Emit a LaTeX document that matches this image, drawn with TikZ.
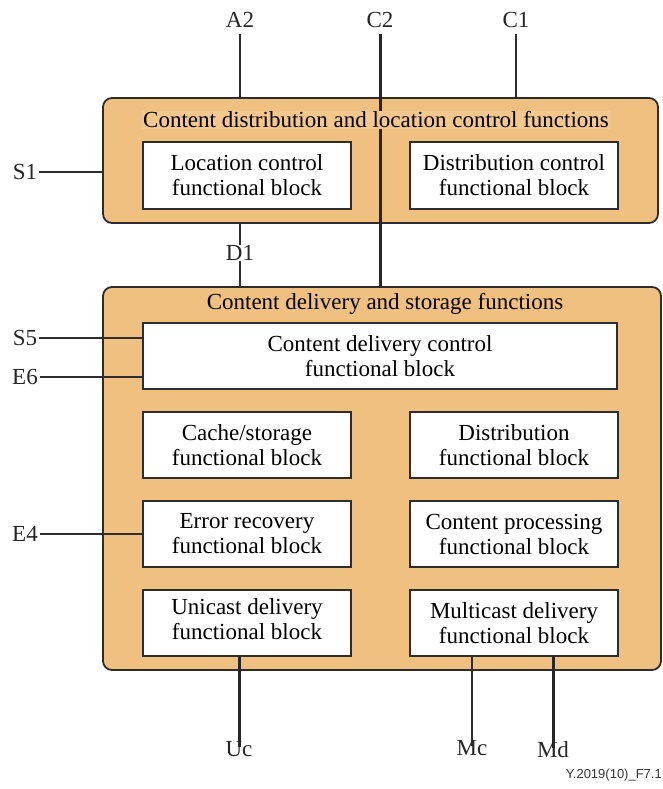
\documentclass[tikz,border=0pt]{standalone}
\usepackage{fontspec}
\setmainfont{Liberation Serif}
\newfontfamily\footfont{Liberation Sans}
\definecolor{orbg}{RGB}{240,192,128}
\definecolor{orhi}{RGB}{244,199,140}
\definecolor{edge}{RGB}{45,45,45}
\begin{document}
\begin{tikzpicture}[x=1pt,y=-1pt,
  font=\fontsize{23}{25}\selectfont,
  group/.style={draw=edge,line width=1.8pt,fill=orbg,rounded corners=9pt},
  fblock/.style={draw=edge,line width=1.5pt,fill=white,inner sep=0pt},
  lbl/.style={inner sep=0pt,text=black!85},
  thin/.style={draw=edge,line width=1.2pt},
  thick/.style={draw=black!85,line width=3pt}]
\useasboundingbox (0,0) rectangle (662,789);
% group boxes
\draw[group] (103,98) rectangle (658,223);
\draw[group] (103,287) rectangle (661,670);
% external labels
\node[lbl] (A2) at (240,20) {A2};
\node[lbl] (C2) at (380,20) {C2};
\node[lbl] (C1) at (516,20) {C1};
\node[lbl] (S1) at (25,172) {S1};
\node[lbl] (D1) at (240,253) {D1};
\node[lbl] (S5) at (25,338) {S5};
\node[lbl] (E6) at (25,377) {E6};
\node[lbl] (E4) at (25,534) {E4};
\node[lbl] (Uc) at (239,749) {Uc};
\node[lbl] (Mc) at (472,748) {Mc};
\node[lbl] (Md) at (553,750) {Md};
% coordinates on box edges
\coordinate (topA) at (240,98);
\coordinate (topC1) at (516,98);
\coordinate (leftS1) at (103,172);
\coordinate (botD1) at (240,223);
\coordinate (topBot) at (240,287);
\coordinate (topC2) at (380,287);
% connectors (drawn before titles so titles mask C2)
\draw[thin] (A2.south) ++(0,6) -- (topA);
\draw[thin] (C1.south) ++(0,6) -- (topC1);
\draw[thin] (S1.east) ++(2,0) -- (leftS1);
\draw[thin] (botD1) -- (D1.north);
\draw[thin] (D1.south) -- (topBot);
\draw[thick] (C2.south) ++(0,6) -- (topC2);
% group titles
\node[fill=orhi,inner sep=1pt] (t1) at (376,120) {Content distribution and location control functions};
\node[inner sep=1pt] (t2) at (385,304) {Content delivery and storage functions};
% functional blocks
\node[fblock,minimum width=208pt,minimum height=67pt,align=center] (loc) at (247,175.5) {Location control\\functional block};
\node[fblock,minimum width=208pt,minimum height=67pt,align=center] (dis) at (514,175.5) {Distribution control\\functional block};
\node[fblock,minimum width=474pt,minimum height=66pt,align=center] (cdc) at (380,356) {Content delivery control\\functional block};
\node[fblock,minimum width=208pt,minimum height=66pt,align=center] (cache) at (247,445) {Cache/storage\\functional block};
\node[fblock,minimum width=208pt,minimum height=66pt,align=center] (distr) at (514,445) {Distribution\\functional block};
\node[fblock,minimum width=208pt,minimum height=66pt,align=center] (err) at (247,534) {Error recovery\\functional block};
\node[fblock,minimum width=208pt,minimum height=66pt,align=center] (proc) at (514,534) {Content processing\\functional block};
\node[fblock,minimum width=208pt,minimum height=66pt] (uni) at (247,623) {};
\node[align=center,inner sep=0pt] at (247,619) {Unicast delivery\\functional block};
\node[fblock,minimum width=208pt,minimum height=66pt,align=center] (mul) at (514,623) {Multicast delivery\\functional block};
% connectors to inner blocks
\draw[thin] (S5.east) ++(2,0) -- (S5.east -| cdc.west);
\draw[thin] (E6.east) ++(2,0) -- (E6.east -| cdc.west);
\draw[thin] (E4.east) ++(2,0) -- (E4.east -| err.west);
\draw[thick] (Uc |- uni.south) -- ([yshift=-6pt]Uc.north);
\draw[thin] (Mc |- mul.south) -- ([yshift=-6pt]Mc.north);
\draw[thick] (Md |- mul.south) -- ([yshift=-6pt]Md.north);
% footer
\node[anchor=east,inner sep=0pt,font=\footfont\fontsize{13}{13}\selectfont,text=black!80] (foot) at (662,775) {Y.2019(10)\_F7.1};
\end{tikzpicture}
\end{document}
